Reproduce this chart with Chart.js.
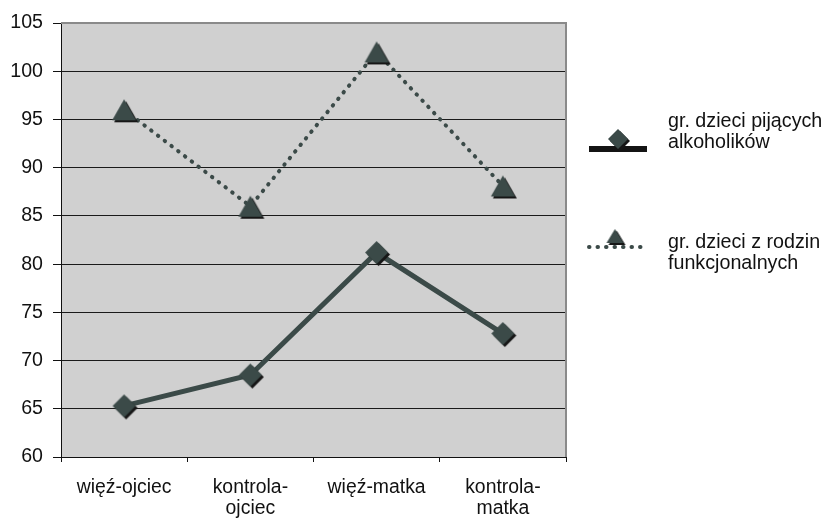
<!DOCTYPE html>
<html lang="pl">
<head>
<meta charset="utf-8">
<title>Więź i kontrola – ojciec / matka</title>
<script src="https://cdn.jsdelivr.net/npm/chart.js@4.4.1/dist/chart.umd.min.js"></script>
<style>
  html, body { margin: 0; padding: 0; background: #fff; }
  #wrap { width: 823px; height: 518px; position: relative; }
</style>
</head>
<body>
<div id="wrap"><canvas id="chart"></canvas></div>
<script>
// categories and series
const categories = ['więź-ojciec', ['kontrola-', 'ojciec'], 'więź-matka', ['kontrola-', 'matka']];
const seriesNames = [
  ['gr. dzieci pijących', 'alkoholików'],
  ['gr. dzieci z rodzin', 'funkcjonalnych'],
];
const alcoholicValues = [65.3, 68.5, 81.2, 72.8];
const functionalValues = [96, 86, 102, 88.1];
const yTickValues = [60, 65, 70, 75, 80, 85, 90, 95, 100, 105];

const MARK = '#3b4a48';
const SHADOW = '#161616';
const FONT = "'Liberation Sans', Arial, sans-serif";

// marker sprites with a small drop shadow (bottom-right)
function makeMarker(shape, w, h) {
  const pad = 3;
  const c = document.createElement('canvas');
  c.width = w + pad * 2;
  c.height = h + pad * 2;
  const g = c.getContext('2d');
  const path = (dx, dy) => {
    g.beginPath();
    if (shape === 'diamond') {
      g.moveTo(pad + w / 2 + dx, pad + dy);
      g.lineTo(pad + w + dx, pad + h / 2 + dy);
      g.lineTo(pad + w / 2 + dx, pad + h + dy);
      g.lineTo(pad + dx, pad + h / 2 + dy);
    } else {
      g.moveTo(pad + w / 2 + dx, pad + dy);
      g.lineTo(pad + w + dx, pad + h + dy);
      g.lineTo(pad + dx, pad + h + dy);
    }
    g.closePath();
  };
  g.fillStyle = SHADOW;
  path(2, 2);
  g.fill();
  g.fillStyle = MARK;
  path(0, 0);
  g.fill();
  return c;
}

const diamond = makeMarker('diamond', 23, 23);
const triangle = makeMarker('triangle', 24, 21);
const diamondSmall = makeMarker('diamond', 20, 20);
const triangleSmall = makeMarker('triangle', 17, 14);

// grey plot area with a grey frame on top and right
const plotFrame = {
  id: 'plotFrame',
  beforeDraw(chart) {
    const { ctx, chartArea: a } = chart;
    ctx.save();
    ctx.fillStyle = '#d0d0d0';
    ctx.fillRect(a.left, a.top, a.right - a.left, a.bottom - a.top);
    ctx.restore();
  },
  afterDatasetsDraw(chart) {
    const { ctx, chartArea: a } = chart;
    ctx.save();
    ctx.strokeStyle = '#8a8a8a';
    ctx.lineWidth = 2;
    ctx.beginPath();
    ctx.moveTo(a.left, a.top);
    ctx.lineTo(a.right, a.top);
    ctx.lineTo(a.right, a.bottom);
    ctx.stroke();
    ctx.restore();
  },
};

// legend on the right: line sample with marker, two-line label
const sideLegend = {
  id: 'sideLegend',
  afterDraw(chart) {
    const { ctx } = chart;
    ctx.save();
    ctx.font = `19.7px ${FONT}`;
    ctx.textBaseline = 'middle';

    // alcoholics' children
    ctx.fillStyle = '#141414';
    ctx.fillRect(589, 146, 58, 6);
    ctx.drawImage(diamondSmall, 618 - diamondSmall.width / 2, 139 - diamondSmall.height / 2);
    ctx.fillStyle = '#111';
    ctx.fillText(seriesNames[0][0], 668, 122);
    ctx.fillText(seriesNames[0][1], 668, 143);

    // functional families
    ctx.strokeStyle = MARK;
    ctx.lineWidth = 4;
    ctx.lineCap = 'round';
    ctx.setLineDash([0.5, 8]);
    ctx.beginPath();
    ctx.moveTo(589, 247);
    ctx.lineTo(647, 247);
    ctx.stroke();
    ctx.setLineDash([]);
    ctx.drawImage(triangleSmall, 615 - triangleSmall.width / 2, 236 - triangleSmall.height / 2);
    ctx.fillText(seriesNames[1][0], 668, 243);
    ctx.fillText(seriesNames[1][1], 668, 264);
    ctx.restore();
  },
};

new Chart(document.getElementById('chart'), {
  type: 'line',
  data: {
    labels: categories,
    datasets: [
      {
        label: seriesNames[0].join(' '),
        data: alcoholicValues,
        borderColor: MARK,
        borderWidth: 5,
        pointStyle: diamond,
        tension: 0,
      },
      {
        label: seriesNames[1].join(' '),
        data: functionalValues,
        borderColor: MARK,
        borderWidth: 4,
        borderCapStyle: 'round',
        borderDash: [0.5, 8],
        pointStyle: triangle,
        tension: 0,
      },
    ],
  },
  options: {
    responsive: true,
    maintainAspectRatio: false,
    animation: false,
    devicePixelRatio: 1,
    layout: { padding: { top: 23, right: 257, left: 0, bottom: 0 } },
    plugins: {
      legend: { display: false },
      tooltip: { enabled: false },
    },
    scales: {
      x: {
        offset: true,
        afterFit: (s) => { s.height = 61; },
        grid: {
          offset: true,
          drawOnChartArea: false,
          color: '#111',
          tickLength: 5,
        },
        border: { color: '#111', width: 1 },
        ticks: {
          color: '#111',
          padding: 15,
          maxRotation: 0,
          font: { family: FONT, size: 19.4, lineHeight: 1.08 },
        },
      },
      y: {
        min: yTickValues[0],
        max: yTickValues[yTickValues.length - 1],
        afterFit: (s) => { s.width = 61; },
        afterBuildTicks: (s) => { s.ticks = yTickValues.map((v) => ({ value: v })); },
        grid: {
          color: (c) => (c.tick && c.tick.value === 105 ? 'rgba(0,0,0,0)' : '#1a1a1a'),
          tickColor: '#111',
          tickLength: 8,
        },
        border: { color: '#111', width: 1 },
        ticks: {
          color: '#111',
          padding: 10,
          font: { family: FONT, size: 19.6 },
        },
      },
    },
  },
  plugins: [plotFrame, sideLegend],
});
</script>
</body>
</html>
